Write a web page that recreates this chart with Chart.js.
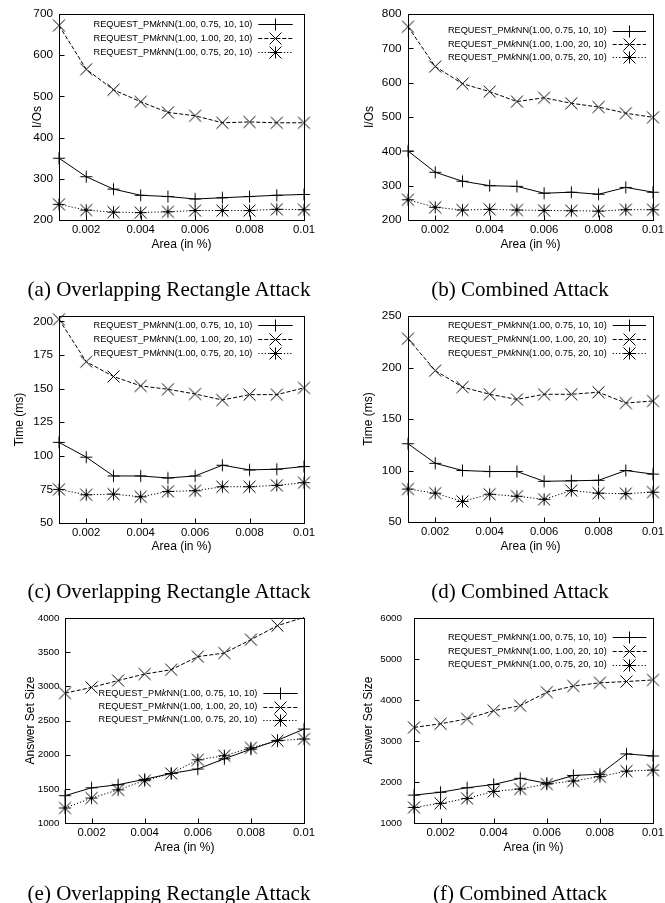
<!DOCTYPE html>
<html><head><meta charset="utf-8">
<script src="https://cdn.jsdelivr.net/npm/chart.js@4/dist/chart.umd.min.js"></script>
<style>
html,body{margin:0;padding:0;background:#fff;}
#wrap{position:relative;width:665px;height:903px;overflow:hidden;background:#fff;}
canvas{position:absolute;}
.cap{position:absolute;font-family:"Liberation Serif","Times New Roman",serif;font-size:21px;line-height:21px;white-space:nowrap;text-align:center;color:#000;width:330px;}
</style></head><body><div id="wrap"></div>
<script>
// ---- data ----
const areas = [0.001, 0.002, 0.003, 0.004, 0.005, 0.006, 0.007, 0.008, 0.009, 0.01];
const xTicks = [0.002, 0.004, 0.006, 0.008, 0.01];
const xTickLabels = ['0.002', '0.004', '0.006', '0.008', '0.01'];
const seriesLabels = ['REQUEST_PMkNN(1.00, 0.75, 10, 10)', 'REQUEST_PMkNN(1.00, 1.00, 20, 10)', 'REQUEST_PMkNN(1.00, 0.75, 20, 10)'];

const ioOverlap1 = [350, 305, 275, 260, 257, 251, 254, 257, 260, 262];
const ioOverlap2 = [672, 566, 516, 487, 461, 453, 436, 438, 436, 436];
const ioOverlap3 = [238, 224, 219, 218, 220, 223, 223, 223, 226, 225];
const ioOverlapTicks = [200, 300, 400, 500, 600, 700];

const ioCombined1 = [401, 339, 313, 300, 298, 278, 281, 275, 295, 281];
const ioCombined2 = [763, 647, 597, 574, 545, 556, 540, 529, 511, 499];
const ioCombined3 = [259, 237, 229, 231, 229, 228, 227, 226, 230, 230];
const ioCombinedTicks = [200, 300, 400, 500, 600, 700, 800];

const timeOverlap1 = [110, 99, 85, 85, 83.5, 85, 93, 89.5, 90, 92];
const timeOverlap2 = [201.5, 170, 159, 152, 149.5, 146, 141.5, 145.5, 145.5, 150.5];
const timeOverlap3 = [75, 71, 71.5, 69.5, 73.5, 74, 77, 77, 78, 80];
const timeOverlapTicks = [50, 75, 100, 125, 150, 175, 200];

const timeCombined1 = [126, 107, 100, 99, 99, 89.5, 90, 90.5, 100, 96.5];
const timeCombined2 = [228, 197, 181, 174, 169, 174, 174, 176, 165.5, 167.5];
const timeCombined3 = [82, 78, 70, 77, 75, 72, 80.5, 78, 77.5, 79];
const timeCombinedTicks = [50, 100, 150, 200, 250];

const answerOverlap1 = [1400, 1515, 1560, 1640, 1725, 1790, 1940, 2080, 2210, 2375];
const answerOverlap2 = [2900, 2984, 3085, 3180, 3243, 3435, 3487, 3683, 3888, 4010];
const answerOverlap3 = [1220, 1365, 1485, 1620, 1725, 1925, 1985, 2100, 2205, 2230];
const answerOverlapTicks = [1000, 1500, 2000, 2500, 3000, 3500, 4000];

const answerCombined1 = [1680, 1750, 1860, 1940, 2090, 1970, 2160, 2190, 2685, 2635];
const answerCombined2 = [3330, 3420, 3540, 3740, 3860, 4190, 4340, 4420, 4450, 4490];
const answerCombined3 = [1380, 1480, 1600, 1770, 1830, 1950, 2025, 2130, 2265, 2290];
const answerCombinedTicks = [1000, 2000, 3000, 4000, 5000, 6000];

// ---- rendering ----
const family = '"Liberation Sans", Arial, Helvetica, sans-serif';
function makeMarker(type) {
  const s = 6, c = document.createElement('canvas');
  c.width = c.height = 15;
  const g = c.getContext('2d'), m = 7.5;
  g.strokeStyle = '#000'; g.lineWidth = 1; g.beginPath();
  if (type !== 'cross') { g.moveTo(m - s, m); g.lineTo(m + s, m); g.moveTo(m, m - s); g.lineTo(m, m + s); }
  if (type !== 'plus') { g.moveTo(m - s, m - s); g.lineTo(m + s, m + s); g.moveTo(m - s, m + s); g.lineTo(m + s, m - s); }
  g.stroke();
  return c;
}
const markers = [makeMarker('plus'), makeMarker('cross'), makeMarker('star')];
const dashes = [[], [4, 2], [1.2, 2]];

const gnuPlugin = {
  id: 'gnu',
  beforeDatasetsDraw(chart) {
    const { ctx, chartArea: a, scales: { x, y } } = chart;
    ctx.save(); ctx.strokeStyle = '#000'; ctx.lineWidth = 1; ctx.setLineDash([]);
    const L = Math.round(a.left) + 0.5, R = Math.round(a.right) + 0.5, T = Math.round(a.top) + 0.5, B = Math.round(a.bottom) + 0.5;
    ctx.beginPath();
    x.ticks.forEach(t => { const px = Math.round(x.getPixelForValue(t.value)) + 0.5; ctx.moveTo(px, B); ctx.lineTo(px, B - 5); });
    y.ticks.forEach(t => { const py = Math.round(y.getPixelForValue(t.value)) + 0.5; ctx.moveTo(L, py); ctx.lineTo(L + 5, py); });
    ctx.stroke();
    ctx.strokeRect(L, T, R - L, B - T);
    ctx.restore();
  },
  afterDatasetsDraw(chart, args, opts) {
    const lg = opts.leg; if (!lg) return;
    const { ctx } = chart;
    ctx.save();
    const fN = '9.2px ' + family, fI = 'italic 9.2px ' + family;
    chart.data.datasets.forEach((ds, i) => {
      const yy = lg.y0 + i * lg.dy;
      const idx = ds.label.indexOf('PMkNN');
      const parts = [ds.label.slice(0, idx + 2), 'k', ds.label.slice(idx + 3)];
      ctx.textBaseline = 'middle'; ctx.textAlign = 'left'; ctx.fillStyle = '#000';
      ctx.font = fN; const w1 = ctx.measureText(parts[0]).width, w3 = ctx.measureText(parts[2]).width;
      ctx.font = fI; const w2 = ctx.measureText(parts[1]).width;
      let xx = lg.tr - (w1 + w2 + w3);
      ctx.font = fN; ctx.fillText(parts[0], xx, yy); xx += w1;
      ctx.font = fI; ctx.fillText(parts[1], xx, yy); xx += w2;
      ctx.font = fN; ctx.fillText(parts[2], xx, yy);
      const ly = Math.round(yy) + 0.5;
      ctx.strokeStyle = '#000'; ctx.lineWidth = 1; ctx.setLineDash(ds.borderDash || []);
      ctx.beginPath(); ctx.moveTo(lg.x1, ly); ctx.lineTo(lg.x2, ly); ctx.stroke();
      ctx.setLineDash([]);
      const m = ds.pointStyle;
      ctx.drawImage(m, Math.round((lg.x1 + lg.x2) / 2 - 7.5), Math.round(yy) - 7);
    });
    ctx.restore();
  }
};

const panels = [
  { ox: 0, oy: 0, w: 333, h: 302, top: 14, bottom: 220, left: 59, right: 304, yMin: 200, yMax: 700, yTicks: ioOverlapTicks, yTitle: 'I/Os', yTitlePad: 30.3, xTitlePad: 50.5,
    yTickSize: 11.8, yTickPad: 6, series: [ioOverlap1, ioOverlap2, ioOverlap3], leg: { tr: 252.3, x1: 258.3, x2: 292.7, y0: 24, dy: 14.2 } },
  { ox: 332, oy: 0, w: 370, h: 302, top: 14, bottom: 220, left: 76, right: 321, yMin: 200, yMax: 800, yTicks: ioCombinedTicks, yTitle: 'I/Os', yTitlePad: 30.8, xTitlePad: 50.5,
    yTickSize: 11.8, yTickPad: 6.5, series: [ioCombined1, ioCombined2, ioCombined3], leg: { tr: 274.7, x1: 280.7, x2: 314, y0: 30.7, dy: 13.3 } },
  { ox: 0, oy: 302, w: 333, h: 302, top: 14, bottom: 221, left: 59, right: 304, yMin: 50, yMax: 204, yTicks: timeOverlapTicks, yTitle: 'Time (ms)', yTitlePad: 12.8, xTitlePad: 50,
    yTickSize: 11.8, yTickPad: 6, series: [timeOverlap1, timeOverlap2, timeOverlap3], leg: { tr: 252.3, x1: 258.3, x2: 292.7, y0: 23, dy: 14.2 } },
  { ox: 332, oy: 302, w: 370, h: 302, top: 14, bottom: 220, left: 76, right: 321, yMin: 50, yMax: 250, yTicks: timeCombinedTicks, yTitle: 'Time (ms)', yTitlePad: 29.8, xTitlePad: 50.5,
    yTickSize: 11.8, yTickPad: 6.5, series: [timeCombined1, timeCombined2, timeCombined3], leg: { tr: 274.7, x1: 280.7, x2: 314, y0: 23, dy: 14.2 } },
  { ox: 0, oy: 604, w: 333, h: 299, top: 14, bottom: 219, left: 65, right: 304, yMin: 1000, yMax: 4000, yTicks: answerOverlapTicks, yTitle: 'Answer Set Size', yTitlePad: 23.3, xTitlePad: 48.3,
    yTickSize: 9.8, yTickPad: 5.5, series: [answerOverlap1, answerOverlap2, answerOverlap3], leg: { tr: 257.3, x1: 263.3, x2: 297.7, y0: 89.3, dy: 13.3 } },
  { ox: 332, oy: 604, w: 370, h: 299, top: 14, bottom: 219, left: 82, right: 321, yMin: 1000, yMax: 6000, yTicks: answerCombinedTicks, yTitle: 'Answer Set Size', yTitlePad: 29.5, xTitlePad: 48.3,
    yTickSize: 9.8, yTickPad: 12, series: [answerCombined1, answerCombined2, answerCombined3], leg: { tr: 274.7, x1: 280.7, x2: 314.5, y0: 33.3, dy: 13.8 } }
];
const captions = [
  { text: '(a) Overlapping Rectangle Attack', cx: 169, top: 279 },
  { text: '(b) Combined Attack', cx: 520, top: 279 },
  { text: '(c) Overlapping Rectangle Attack', cx: 169, top: 581 },
  { text: '(d) Combined Attack', cx: 520, top: 581 },
  { text: '(e) Overlapping Rectangle Attack', cx: 169, top: 883 },
  { text: '(f) Combined Attack', cx: 520, top: 883 }
];

const wrap = document.getElementById('wrap');
panels.forEach(p => {
  const W = p.w;
  const cv = document.createElement('canvas');
  cv.width = W; cv.height = p.h;
  cv.style.left = p.ox + 'px'; cv.style.top = p.oy + 'px';
  cv.style.width = W + 'px'; cv.style.height = p.h + 'px';
  wrap.appendChild(cv);
  const yPad = Math.min(p.yTickPad, 6.5), yTl = p.yTickPad - yPad;
  new Chart(cv, {
    type: 'line',
    data: {
      datasets: p.series.map((vals, i) => ({
        label: seriesLabels[i],
        data: areas.map((a, j) => ({ x: a, y: vals[j] })),
        borderColor: '#000', backgroundColor: '#000', borderWidth: 1, borderDash: dashes[i],
        pointStyle: markers[i],
        pointRadius: ctx => (ctx.raw && ctx.raw.y > p.yMax ? 0 : 6),
        pointHoverRadius: 0,
        tension: 0, fill: false, clip: false
      }))
    },
    options: {
      responsive: false, animation: false, events: [], devicePixelRatio: 1,
      layout: { padding: { left: 0, top: p.top, right: W - p.right, bottom: 0 } },
      plugins: { legend: { display: false }, tooltip: { enabled: false }, gnu: { leg: p.leg } },
      scales: {
        x: {
          type: 'linear', min: 0.001, max: 0.01,
          grid: { display: false, drawTicks: false }, border: { display: false },
          afterBuildTicks: s => { s.ticks = xTicks.map(v => ({ value: v })); },
          afterFit: s => { s.height = p.h - p.bottom; },
          ticks: { autoSkip: false, maxRotation: 0, minRotation: 0, padding: 3.5, color: '#000', font: { family, size: 11.3 },
                   callback: (v, i) => xTickLabels[i] },
          title: { display: true, text: 'Area (in %)', color: '#000', font: { family, size: 12 }, padding: { top: 0, bottom: p.xTitlePad } }
        },
        y: {
          type: 'linear', min: p.yMin, max: p.yMax,
          grid: { display: false, drawTicks: yTl > 0, tickLength: yTl }, border: { display: false },
          afterBuildTicks: s => { s.ticks = p.yTicks.map(v => ({ value: v })); },
          afterFit: s => { s.width = p.left; },
          ticks: { autoSkip: false, padding: yPad, color: '#000', font: { family, size: p.yTickSize },
                   callback: (v, i) => String(p.yTicks[i]) },
          title: { display: true, text: p.yTitle, color: '#000', font: { family, size: 12 }, padding: { top: p.yTitlePad, bottom: 0 } }
        }
      }
    },
    plugins: [gnuPlugin]
  });
});
captions.forEach(c => {
  const d = document.createElement('div');
  d.className = 'cap'; d.textContent = c.text;
  d.style.left = (c.cx - 165) + 'px'; d.style.top = c.top + 'px';
  wrap.appendChild(d);
});
</script></body></html>
